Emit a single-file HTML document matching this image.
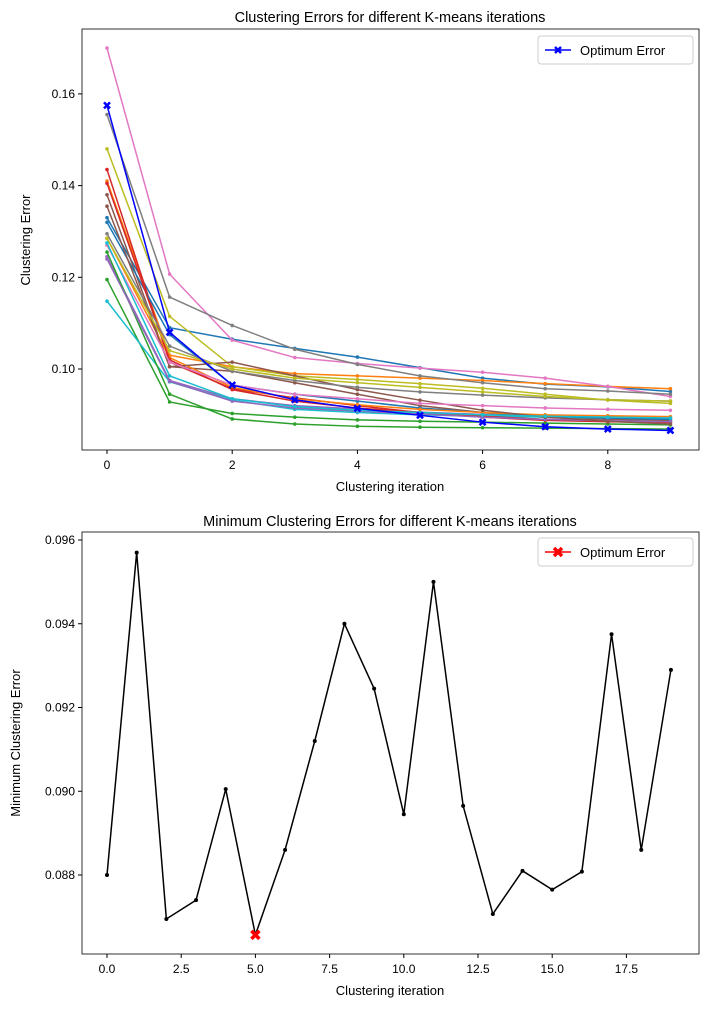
<!DOCTYPE html>
<html><head><meta charset="utf-8"><style>
body{margin:0;background:#fff}
svg{font-family:"Liberation Sans","DejaVu Sans",sans-serif}
</style></head><body>
<svg id="s" width="709" height="1007" xmlns="http://www.w3.org/2000/svg">
<rect width="709" height="1007" fill="#fff"/>
<text x="390" y="22" font-size="14.5" text-anchor="middle">Clustering Errors for different K-means iterations</text>
<text x="390" y="526" font-size="14.5" text-anchor="middle">Minimum Clustering Errors for different K-means iterations</text>
<text x="390" y="491" font-size="13" text-anchor="middle">Clustering iteration</text>
<text x="390" y="995" font-size="13" text-anchor="middle">Clustering iteration</text>
<text transform="translate(30,240) rotate(-90)" font-size="13" text-anchor="middle">Clustering Error</text>
<text transform="translate(20,743) rotate(-90)" font-size="13" text-anchor="middle">Minimum Clustering Error</text>
<g id="top"></g>
<g id="bot"></g>
</svg>
<script>
const topIters=[0,1,2,3,4,5,6,7,8,9];
const topXTicks=[0,2,4,6,8];
const topYTicks=[0.10,0.12,0.14,0.16];
const colors=["#1f77b4","#ff7f0e","#2ca02c","#d62728","#9467bd","#8c564b","#e377c2","#7f7f7f","#bcbd22","#17becf"];
const s0=[0.133,0.109,0.1065,0.1045,0.1026,0.1003,0.098,0.0967,0.0961,0.0951];
const s1=[0.141,0.103,0.1005,0.099,0.0985,0.098,0.0975,0.0968,0.0962,0.0957];
const s2=[0.1195,0.0928,0.0903,0.0895,0.0889,0.0886,0.0884,0.0882,0.0880,0.0878];
const s3=[0.1435,0.1015,0.0957,0.0937,0.0920,0.0905,0.0895,0.0888,0.0885,0.0883];
const s4=[0.1245,0.0975,0.0935,0.0920,0.0913,0.0906,0.0901,0.0897,0.0895,0.0893];
const s5=[0.138,0.1005,0.0995,0.0970,0.0945,0.0920,0.0905,0.0895,0.0890,0.0888];
const s6=[0.170,0.1207,0.1063,0.1025,0.1012,0.1002,0.0993,0.098,0.0962,0.0940];
const s7=[0.1555,0.1157,0.1095,0.1043,0.1010,0.0985,0.0970,0.0957,0.0952,0.0945];
const s8=[0.148,0.1115,0.1005,0.0985,0.0977,0.0968,0.0958,0.0945,0.0932,0.0925];
const s9=[0.1148,0.0972,0.0932,0.0912,0.0905,0.0900,0.0897,0.0895,0.0893,0.0891];
const s10=[0.132,0.1075,0.0965,0.0945,0.093,0.0915,0.0905,0.0897,0.0893,0.0890];
const s11=[0.1285,0.1025,0.0960,0.0935,0.0922,0.0912,0.0905,0.0900,0.0898,0.0896];
const s12=[0.1255,0.0945,0.0891,0.0880,0.0875,0.0873,0.0872,0.0871,0.0870,0.0869];
const s13=[0.1405,0.102,0.0955,0.0930,0.0915,0.0905,0.0897,0.0890,0.0886,0.0884];
const s14=[0.124,0.0973,0.0930,0.0915,0.0908,0.0902,0.0895,0.0890,0.0887,0.0885];
const s15=[0.1355,0.1005,0.1015,0.0985,0.0955,0.0932,0.0910,0.0895,0.0886,0.0880];
const s16=[0.127,0.1015,0.0965,0.0945,0.0935,0.0925,0.0920,0.0915,0.0912,0.0910];
const s17=[0.1295,0.105,0.0995,0.0975,0.0960,0.0950,0.0943,0.0937,0.0933,0.0930];
const s18=[0.1285,0.1040,0.1000,0.0980,0.0970,0.0960,0.0950,0.0940,0.0933,0.0930];
const s19=[0.1275,0.0985,0.0935,0.0918,0.0910,0.0905,0.0900,0.0897,0.0895,0.0893];
const optimum=[0.1575,0.108,0.0965,0.0933,0.0914,0.0899,0.0884,0.0874,0.0869,0.0866];
const botIters=[0,1,2,3,4,5,6,7,8,9,10,11,12,13,14,15,16,17,18,19];
const minErrors=[0.0880,0.0957,0.08695,0.0874,0.09005,0.08657,0.0886,0.0912,0.0940,0.09245,0.08945,0.0950,0.08965,0.08707,0.0881,0.08765,0.08808,0.09375,0.0886,0.0929];
const botXTicks=[0,2.5,5,7.5,10,12.5,15,17.5];
const botYTicks=[0.088,0.090,0.092,0.094,0.096];
const optIndex=5;

const NS="http://www.w3.org/2000/svg";
function mk(p,t,a){const e=document.createElementNS(NS,t);for(const k in a)e.setAttribute(k,a[k]);p.appendChild(e);return e;}
const tx=v=>107+v*62.6, ty=v=>369-(v-0.10)*4585;
const bx=v=>107+v*29.68, by=v=>875-(v-0.088)*41875;

function axes(g,x0,y0,x1,y1,xt,yt,fx,fy,xf,yf){
  const r=mk(g,'rect',{x:x0,y:y0,width:x1-x0,height:y1-y0,fill:'none',stroke:'#000','stroke-width':0.8});
  
  
  xt.forEach(v=>{const x=fx(v);mk(g,'line',{x1:x,x2:x,y1:y1,y2:y1+4,stroke:'#000'});
    const t=mk(g,'text',{x:x,y:y1+19,'font-size':12,'text-anchor':'middle'});t.textContent=xf(v);
    
    });
  yt.forEach(v=>{const y=fy(v);mk(g,'line',{x1:x0-4,x2:x0,y1:y,y2:y,stroke:'#000'});
    const t=mk(g,'text',{x:x0-7,y:y+4,'font-size':12,'text-anchor':'end'});t.textContent=yf(v);
    
    });
}
const T=document.getElementById('top'), B=document.getElementById('bot');
axes(T,82,29,699,450,topXTicks,topYTicks,tx,ty,v=>String(v),v=>v.toFixed(2));
axes(B,82,532,699,954,botXTicks,botYTicks,bx,by,v=>v.toFixed(1),v=>v.toFixed(3));

const all=[s0,s1,s2,s3,s4,s5,s6,s7,s8,s9,s10,s11,s12,s13,s14,s15,s16,s17,s18,s19];
all.forEach((s,i)=>{
  const c=colors[i%10];
  const pl=mk(T,'polyline',{points:s.map((v,j)=>tx(topIters[j])+','+ty(v)).join(' '),fill:'none',stroke:c,'stroke-width':1.5});
  
  
  s.forEach((v,j)=>mk(T,'circle',{cx:tx(topIters[j]),cy:ty(v),r:1.8,fill:c}));
});
const op=mk(T,'polyline',{points:optimum.map((v,j)=>tx(topIters[j])+','+ty(v)).join(' '),fill:'none',stroke:'#0000ff','stroke-width':1.5});


function xm(g,x,y,s,c,w){mk(g,'path',{d:`M${x-s},${y-s}L${x+s},${y+s}M${x-s},${y+s}L${x+s},${y-s}`,stroke:c,'stroke-width':w});}
optimum.forEach((v,j)=>xm(T,tx(topIters[j]),ty(v),3,'#0000ff',2.5));

const lg=mk(T,'g',{});


mk(lg,'rect',{x:538,y:36,width:155,height:28,rx:3,fill:'#fff',stroke:'#ccc'});
mk(lg,'line',{x1:545,x2:571,y1:50,y2:50,stroke:'#0000ff','stroke-width':1.5});
xm(lg,558,50,3,'#0000ff',2.5);
const lt=mk(lg,'text',{x:580,y:55,'font-size':13});lt.textContent='Optimum Error';

const bl=mk(B,'polyline',{points:minErrors.map((v,j)=>bx(botIters[j])+','+by(v)).join(' '),fill:'none',stroke:'#000','stroke-width':1.5});


minErrors.forEach((v,j)=>mk(B,'circle',{cx:bx(botIters[j]),cy:by(v),r:2,fill:'#000'}));
xm(B,bx(botIters[optIndex]),by(minErrors[optIndex]),4,'#ff0000',3.5);
const lg2=mk(B,'g',{});


mk(lg2,'rect',{x:538,y:538,width:155,height:28,rx:3,fill:'#fff',stroke:'#ccc'});
mk(lg2,'line',{x1:545,x2:571,y1:552,y2:552,stroke:'#ff0000','stroke-width':1.5});
xm(lg2,558,552,4,'#ff0000',3.5);
const lt2=mk(lg2,'text',{x:580,y:557,'font-size':13});lt2.textContent='Optimum Error';
</script>
</body></html>
